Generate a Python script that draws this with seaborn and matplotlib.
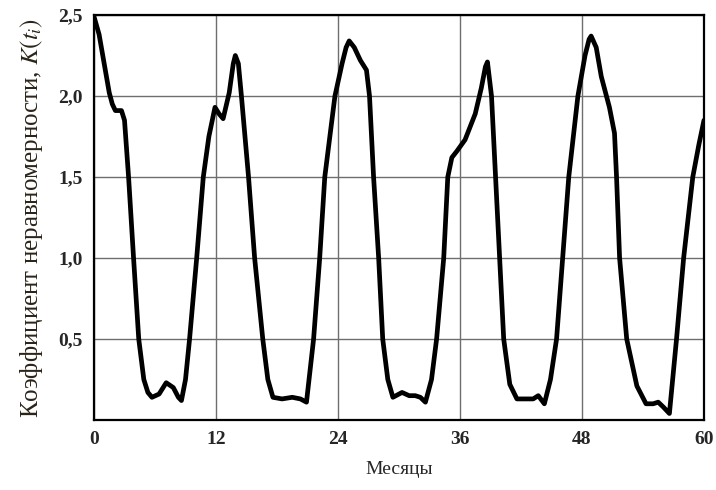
import matplotlib
matplotlib.use("Agg")
import matplotlib.pyplot as plt
import pandas as pd
import seaborn as sns

# months and coefficient values
months = [0.0, 0.5, 1.0, 1.5, 1.8, 2.1, 2.7, 3.0, 3.4, 3.9, 4.4, 4.9, 5.3, 5.7, 6.4, 7.1, 7.8,
          8.3, 8.6, 9.0, 9.4, 10.1, 10.75, 11.3, 11.9, 12.3, 12.7, 13.3, 13.7, 13.9, 14.2, 14.5,
          15.2, 15.8, 16.6, 17.1, 17.6, 18.5, 19.5, 20.3, 20.9, 21.6, 22.2, 22.7, 23.7, 24.4,
          24.8, 25.1, 25.6, 26.2, 26.8, 27.1, 27.5, 28.0, 28.4, 28.9, 29.4, 30.3, 31.0, 31.6,
          32.1, 32.6, 33.2, 33.7, 34.4, 34.8, 35.2, 35.7, 36.5, 37.5, 38.1, 38.5, 38.7, 39.1,
          39.5, 39.9, 40.3, 40.9, 41.6, 42.5, 43.2, 43.7, 44.3, 44.9, 45.5, 46.1, 46.7, 47.6,
          48.3, 48.7, 48.9, 49.4, 49.9, 50.7, 51.2, 51.4, 51.7, 52.4, 53.4, 54.3, 55.0, 55.5,
          56.0, 56.6, 57.3, 58.0, 58.9, 59.5, 60.0]
coef = [2.49, 2.38, 2.20, 2.02, 1.95, 1.91, 1.91, 1.85, 1.50, 0.99, 0.50, 0.25, 0.17, 0.14,
        0.16, 0.23, 0.20, 0.14, 0.12, 0.25, 0.50, 1.00, 1.50, 1.75, 1.93, 1.89, 1.86, 2.02,
        2.20, 2.25, 2.20, 2.00, 1.50, 1.00, 0.50, 0.25, 0.14, 0.13, 0.14, 0.13, 0.11, 0.50,
        1.00, 1.50, 2.00, 2.20, 2.30, 2.34, 2.30, 2.22, 2.16, 2.00, 1.50, 1.00, 0.50, 0.25,
        0.14, 0.17, 0.15, 0.15, 0.14, 0.11, 0.25, 0.50, 1.00, 1.50, 1.62, 1.66, 1.73, 1.89,
        2.05, 2.18, 2.21, 2.00, 1.50, 1.00, 0.50, 0.22, 0.13, 0.13, 0.13, 0.15, 0.10, 0.25,
        0.50, 1.00, 1.50, 2.00, 2.25, 2.35, 2.37, 2.30, 2.12, 1.93, 1.77, 1.50, 1.00, 0.50,
        0.21, 0.10, 0.10, 0.11, 0.08, 0.04, 0.50, 1.00, 1.50, 1.70, 1.85]

x_ticks = [0, 12, 24, 36, 48, 60]
y_ticks = [0.5, 1.0, 1.5, 2.0, 2.5]
y_tick_labels = ["0,5", "1,0", "1,5", "2,0", "2,5"]

df = pd.DataFrame({"month": months, "k": coef})

sns.set_style("white")
plt.rcParams["font.family"] = ["Liberation Serif", "DejaVu Serif"]
plt.rcParams["mathtext.fontset"] = "stix"

fig = plt.figure(figsize=(7.16, 4.9), dpi=100)
ax = fig.add_axes([0.1313, 0.1429, 0.8519, 0.8265])

sns.lineplot(data=df, x="month", y="k", ax=ax, color="black", linewidth=3.4,
             solid_joinstyle="round", solid_capstyle="round")

ax.set_xlim(0, 60)
ax.set_ylim(0, 2.5)
ax.set_xticks(x_ticks)
ax.set_xticklabels([str(t) for t in x_ticks], fontsize=14, fontweight="bold")
ax.set_yticks(y_ticks)
ax.set_yticklabels(y_tick_labels, fontsize=14, fontweight="bold")
ax.tick_params(length=0, pad=8)
ax.grid(True, color="#6e6e6e", linewidth=1.0)

for s in ax.spines.values():
    s.set_color("black")
    s.set_linewidth(1.6)

ax.set_xlabel("Месяцы", fontsize=14, labelpad=9)
ax.set_ylabel(r"Коэффициент неравномерности, $K(t_i)$", fontsize=18,
              color="#2b2418", labelpad=10)

fig.savefig("out.png", dpi=100)
